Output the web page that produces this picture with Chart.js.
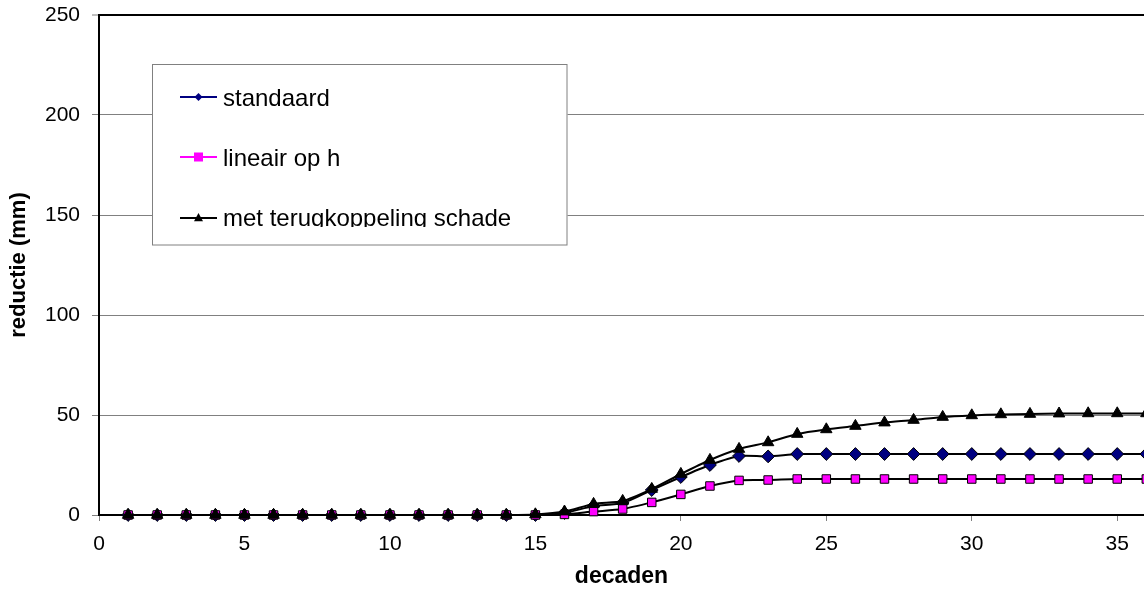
<!DOCTYPE html>
<html><head><meta charset="utf-8">
<script src="https://cdn.jsdelivr.net/npm/chart.js@4/dist/chart.umd.min.js"></script>
<style>html,body{margin:0;padding:0;background:#fff;overflow:hidden}#wrap{width:1144px;height:594px;position:relative}</style>
</head><body><div id="wrap"><canvas id="c" width="1144" height="594"></canvas></div>
<script>
const decades = [1,2,3,4,5,6,7,8,9,10,11,12,13,14,15,16,17,18,19,20,21,22,23,24,25,26,27,28,29,30,31,32,33,34,35,36];
const standaard = [0,0,0,0,0,0,0,0,0,0,0,0,0,0,0,1,4.5,6,12.5,19,25,29.5,29.3,30.5,30.5,30.5,30.5,30.5,30.5,30.5,30.5,30.5,30.5,30.5,30.5,30.5];
const lineairOpH = [0,0,0,0,0,0,0,0,0,0,0,0,0,0,0,0.3,1.7,3,6.3,10.3,14.5,17.3,17.5,18,18,18,18,18,18,18,18,18,18,18,18,18];
const metTerugkoppeling = [0,0,0,0,0,0,0,0,0,0,0,0,0,0,0.3,1.7,5.5,7,13,20.5,27.5,33,36.3,40.5,42.8,44.5,46.2,47.5,49,49.8,50.3,50.5,50.7,50.8,50.8,50.8];
const seriesNames = ['standaard','lineair op h','met terugkoppeling schade'];
const xAxisTitle = 'decaden';
const yAxisTitle = 'reductie (mm)';
const xMin = 0, xMax = 35.92, xStep = 5;
const yMin = 0, yMax = 250, yStep = 50;

const FONT = '"Liberation Sans", Arial, sans-serif';
const toXY = arr => arr.map((v,i)=>({x:decades[i], y:v}));

const legendStyles = [
  {line:'#000080', fill:'#000080', shape:'diamond'},
  {line:'#FF00FF', fill:'#FF00FF', shape:'square'},
  {line:'#000000', fill:'#000000', shape:'triangle'}
];

function drawShape(ctx, shape, x, y, s){
  ctx.beginPath();
  if(shape==='diamond'){ctx.moveTo(x-s,y);ctx.lineTo(x,y-s);ctx.lineTo(x+s,y);ctx.lineTo(x,y+s);ctx.closePath();}
  else if(shape==='square'){ctx.rect(x-s,y-s,2*s,2*s);}
  else {ctx.moveTo(x,y-s*1.1);ctx.lineTo(x+s,y+s*0.7);ctx.lineTo(x-s,y+s*0.7);ctx.closePath();}
}

const boxLegend = {
  id:'boxLegend',
  afterDatasetsDraw(chart){
    const ctx = chart.ctx;
    const L=152, T=64.5, R=567.5, B=245;
    ctx.save();
    ctx.fillStyle='#fff';
    ctx.fillRect(L,T,R-L,B-T);
    ctx.strokeStyle='#808080'; ctx.lineWidth=1;
    ctx.strokeRect(L+0.5,T,R-L-1,B-T);
    ctx.beginPath(); ctx.rect(L+1,T+1,R-L-2,227-T-1); ctx.clip();
    const ys=[97,157,218];
    const bases=[105.7,165.7,225.7];
    const sizes=[4,4.5,4.5];
    seriesNames.forEach((name,i)=>{
      const st=legendStyles[i];
      ctx.strokeStyle=st.line; ctx.lineWidth=2;
      ctx.beginPath(); ctx.moveTo(180,ys[i]); ctx.lineTo(217,ys[i]); ctx.stroke();
      ctx.fillStyle=st.fill; drawShape(ctx, st.shape, 198.5, ys[i], sizes[i]); ctx.fill();
      ctx.fillStyle='#000'; ctx.font='24px '+FONT; ctx.textBaseline='alphabetic'; ctx.textAlign='left';
      ctx.fillText(name, 223, bases[i]);
    });
    ctx.restore();
  }
};

function zeroPad(s){ s.paddingTop=0; s.paddingBottom=0; s.paddingLeft=0; s.paddingRight=0; }

new Chart(document.getElementById('c'), {
  type:'line',
  data:{
    datasets:[
      {label:seriesNames[0], data:toXY(standaard), borderColor:'#000', borderWidth:2, tension:0.25,
       pointStyle:'rectRot', pointRadius:6.4, pointBackgroundColor:'#000080', pointBorderColor:'#000', pointBorderWidth:1, order:3, clip:false},
      {label:seriesNames[1], data:toXY(lineairOpH), borderColor:'#000', borderWidth:2, tension:0.25,
       pointStyle:'rect', pointRadius:6, pointBackgroundColor:'#FF00FF', pointBorderColor:'#000', pointBorderWidth:1, order:2, clip:false},
      {label:seriesNames[2], data:toXY(metTerugkoppeling), borderColor:'#000', borderWidth:2, tension:0.25,
       pointStyle:'triangle', pointRadius:6.6, pointBackgroundColor:'#000', pointBorderColor:'#000', pointBorderWidth:1, order:1, clip:false}
    ]
  },
  options:{
    responsive:false, animation:false, devicePixelRatio:1,
    layout:{autoPadding:false, padding:{top:15,left:0,right:0,bottom:0}},
    plugins:{legend:{display:false}, tooltip:{enabled:false}},
    scales:{
      x:{type:'linear', min:xMin, max:xMax,
         ticks:{stepSize:xStep, includeBounds:false, color:'#000', font:{family:FONT,size:21}, padding:11, maxRotation:0},
         grid:{drawOnChartArea:false, drawTicks:true, tickLength:6, tickColor:'#808080', tickWidth:1},
         border:{color:'#000', width:2},
         title:{display:true, text:xAxisTitle, color:'#000', font:{family:FONT,size:23,weight:'bold'}, padding:{top:4,bottom:4}},
         afterFit(s){ s.height = 79; zeroPad(s); }
      },
      y:{min:yMin, max:yMax,
         ticks:{stepSize:yStep, color:'#000', font:{family:FONT,size:21}, padding:12},
         grid:{color:c=>c.tick && c.tick.value===yMax ? '#000' : '#808080', lineWidth:c=>c.tick && c.tick.value===yMax ? 2 : 1,
               drawTicks:true, tickLength:7, tickColor:'#808080', tickWidth:1},
         border:{color:'#000', width:2},
         title:{display:true, text:yAxisTitle, color:'#000', font:{family:FONT,size:22,weight:'bold'}, padding:{top:6,bottom:4}},
         afterFit(s){ s.width = 99; zeroPad(s); }
      }
    }
  },
  plugins:[boxLegend]
});
</script></body></html>
